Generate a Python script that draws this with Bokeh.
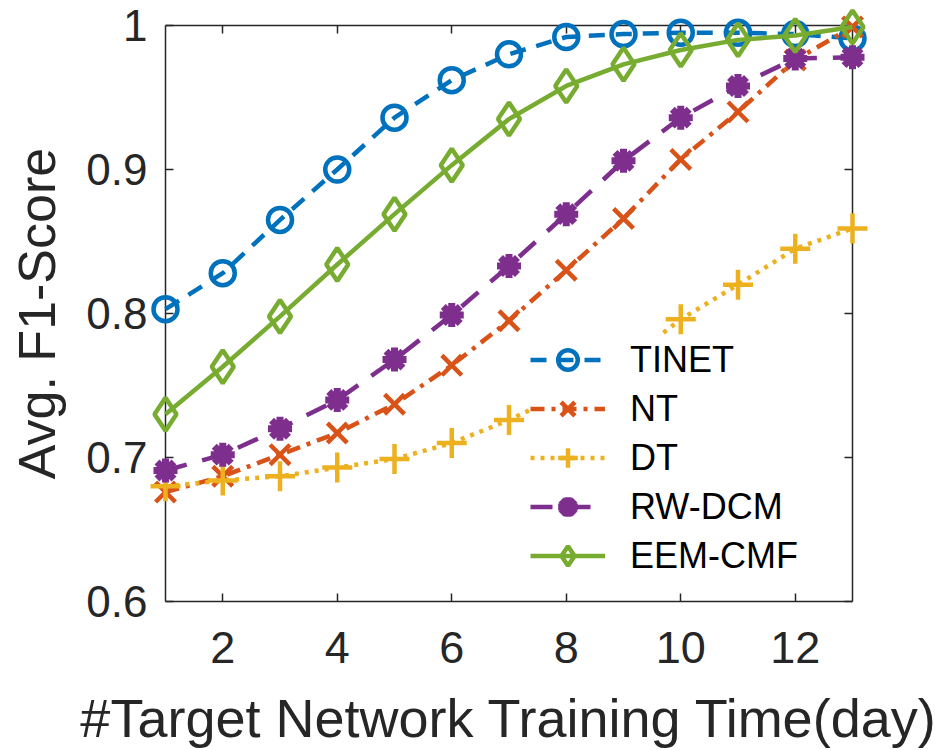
from bokeh.plotting import figure
from bokeh.models import (ColumnDataSource, Legend, LegendItem, LinearAxis, FixedTicker,
                          Range1d, CustomJSTickFormatter)
from bokeh.embed import file_html
from bokeh.resources import INLINE

# ---- data ----
days = [1, 2, 3, 4, 5, 6, 7, 8, 9, 10, 11, 12, 13]
tinet = [0.803, 0.828, 0.865, 0.900, 0.936, 0.962, 0.980, 0.992, 0.994, 0.995, 0.995, 0.994, 0.991]
nt = [0.676, 0.687, 0.702, 0.717, 0.737, 0.764, 0.795, 0.830, 0.866, 0.907, 0.940, 0.976, 0.999]
dt = [0.680, 0.684, 0.687, 0.693, 0.699, 0.710, 0.726, 0.745, 0.765, 0.796, 0.820, 0.845, 0.859]
rwdcm = [0.691, 0.702, 0.720, 0.740, 0.768, 0.799, 0.833, 0.869, 0.906, 0.936, 0.958, 0.977, 0.978]
eemcmf = [0.730, 0.763, 0.798, 0.834, 0.869, 0.903, 0.935, 0.958, 0.973, 0.983, 0.990, 0.993, 0.999]

series_names = ["TINET", "NT", "DT", "RW-DCM", "EEM-CMF"]
x_ticks = [2, 4, 6, 8, 10, 12]
y_ticks = [0.6, 0.7, 0.8, 0.9, 1.0]
x_lim = (1, 13)
y_lim = (0.6, 1.0)
x_title = "#Target Network Training Time(day)"
y_title = "Avg. F1-Score"

FONT = "Liberation Sans"
TXT = "#262626"

# ---- layout (pixels) ----
W, H = 935, 750
BOX_L, BOX_R, BOX_T, BOX_B = 165, 852, 25, 602
PAD = 20  # room around the axes box so edge markers are not clipped
px_x = (BOX_R - BOX_L) / (x_lim[1] - x_lim[0])
px_y = (BOX_B - BOX_T) / (y_lim[1] - y_lim[0])
xr = Range1d(x_lim[0] - PAD / px_x, x_lim[1] + PAD / px_x)
yr = Range1d(y_lim[0] - PAD / px_y, y_lim[1] + PAD / px_y)

p = figure(width=W, height=H, output_backend="svg", toolbar_location=None,
           x_range=xr, y_range=yr, x_axis_location=None, y_axis_location=None,
           min_border_left=BOX_L - PAD, min_border_right=W - BOX_R - PAD,
           min_border_top=BOX_T - PAD, min_border_bottom=H - BOX_B - PAD)
p.grid.visible = False
p.outline_line_color = None
p.background_fill_color = "white"
p.border_fill_color = "white"

blank = CustomJSTickFormatter(code="return '';")

# box lines + inward ticks (fixed at the data limits)
box_axes = [
    (LinearAxis(ticker=FixedTicker(ticks=x_ticks), fixed_location=y_lim[0], bounds=x_lim, formatter=blank), "below"),
    (LinearAxis(ticker=FixedTicker(ticks=y_ticks), fixed_location=x_lim[0], bounds=y_lim, formatter=blank), "left"),
    (LinearAxis(ticker=FixedTicker(ticks=x_ticks), fixed_location=y_lim[1], bounds=x_lim, formatter=blank), "above"),
    (LinearAxis(ticker=FixedTicker(ticks=y_ticks), fixed_location=x_lim[1], bounds=y_lim, formatter=blank), "right"),
]
for ax, side in box_axes:
    ax.axis_line_color = TXT
    ax.axis_line_width = 1.5
    ax.major_tick_line_color = TXT
    ax.major_tick_line_width = 1.5
    ax.major_tick_in = 8
    ax.major_tick_out = 0
    ax.minor_tick_line_color = None
    ax.major_label_standoff = 0
    ax.major_label_text_font_size = "0px"
    ax.level = "underlay"
    p.add_layout(ax, side)

# tick labels and titles (regular side axes, lines hidden)
xlab = LinearAxis(ticker=FixedTicker(ticks=x_ticks), axis_label=x_title)
ylab = LinearAxis(ticker=FixedTicker(ticks=y_ticks), axis_label=y_title)
ylab.major_label_overrides = {1: "1", 1.0: "1"}
for ax in (xlab, ylab):
    ax.axis_line_color = None
    ax.major_tick_line_color = None
    ax.minor_tick_line_color = None
    ax.major_tick_in = 0
    ax.major_tick_out = 0
    ax.major_label_text_color = TXT
    ax.major_label_text_font = FONT
    ax.axis_label_text_font = FONT
    ax.axis_label_text_font_style = "normal"
    ax.axis_label_text_color = TXT
xlab.major_label_text_font_size = "45px"
ylab.major_label_text_font_size = "44px"
xlab.axis_label_text_font_size = "54px"
ylab.axis_label_text_font_size = "52px"
xlab.major_label_standoff = 10
xlab.axis_label_standoff = 22
ylab.major_label_standoff = -2
ylab.axis_label_standoff = 17
p.add_layout(xlab, "below")
p.add_layout(ylab, "left")

src = ColumnDataSource(dict(x=days, tinet=tinet, nt=nt, dt=dt, rwdcm=rwdcm, eemcmf=eemcmf))

LW = 4.5
items = []

# TINET
c = "#0072BD"
l1 = p.line("x", "tinet", source=src, line_color=c, line_width=LW, line_dash="16 11")
m1 = p.scatter("x", "tinet", source=src, marker="circle", size=24, fill_color=None,
               line_color=c, line_width=LW)
items.append(LegendItem(label=series_names[0], renderers=[l1, m1]))

# NT
c = "#D95319"
l2 = p.line("x", "nt", source=src, line_color=c, line_width=LW, line_dash="14 7 4 7")
m2 = p.scatter("x", "nt", source=src, marker="x", size=28, line_color=c, line_width=LW)
items.append(LegendItem(label=series_names[1], renderers=[l2, m2]))

# DT
c = "#EDB120"
l3 = p.line("x", "dt", source=src, line_color=c, line_width=LW, line_dash="4 6")
m3 = p.scatter("x", "dt", source=src, marker="cross", size=30, line_color=c, line_width=LW)
items.append(LegendItem(label=series_names[2], renderers=[l3, m3]))

# RW-DCM
c = "#7E2F8E"
l4 = p.line("x", "rwdcm", source=src, line_color=c, line_width=LW, line_dash="22 16")
m4 = p.scatter("x", "rwdcm", source=src, marker="asterisk", size=24, line_color=c, line_width=7)
items.append(LegendItem(label=series_names[3], renderers=[l4, m4]))

# EEM-CMF
c = "#77AC30"
l5 = p.line("x", "eemcmf", source=src, line_color=c, line_width=LW)
m5 = p.scatter("x", "eemcmf", source=src, marker="diamond", size=33,
               fill_color=None, line_color=c, line_width=LW)
items.append(LegendItem(label=series_names[4], renderers=[l5, m5]))

legend = Legend(items=items, location=(385, 41), orientation="vertical")
legend.label_text_font = FONT
legend.label_text_font_size = "36px"
legend.label_text_color = "black"
legend.glyph_width = 75
legend.glyph_height = 49
legend.label_height = 49
legend.label_standoff = 25
legend.spacing = 0
legend.padding = 0
legend.margin = 0
legend.border_line_alpha = 0
legend.background_fill_color = "white"
legend.background_fill_alpha = 1.0
p.add_layout(legend, "center")

open("out.html", "w").write(file_html(p, INLINE))
